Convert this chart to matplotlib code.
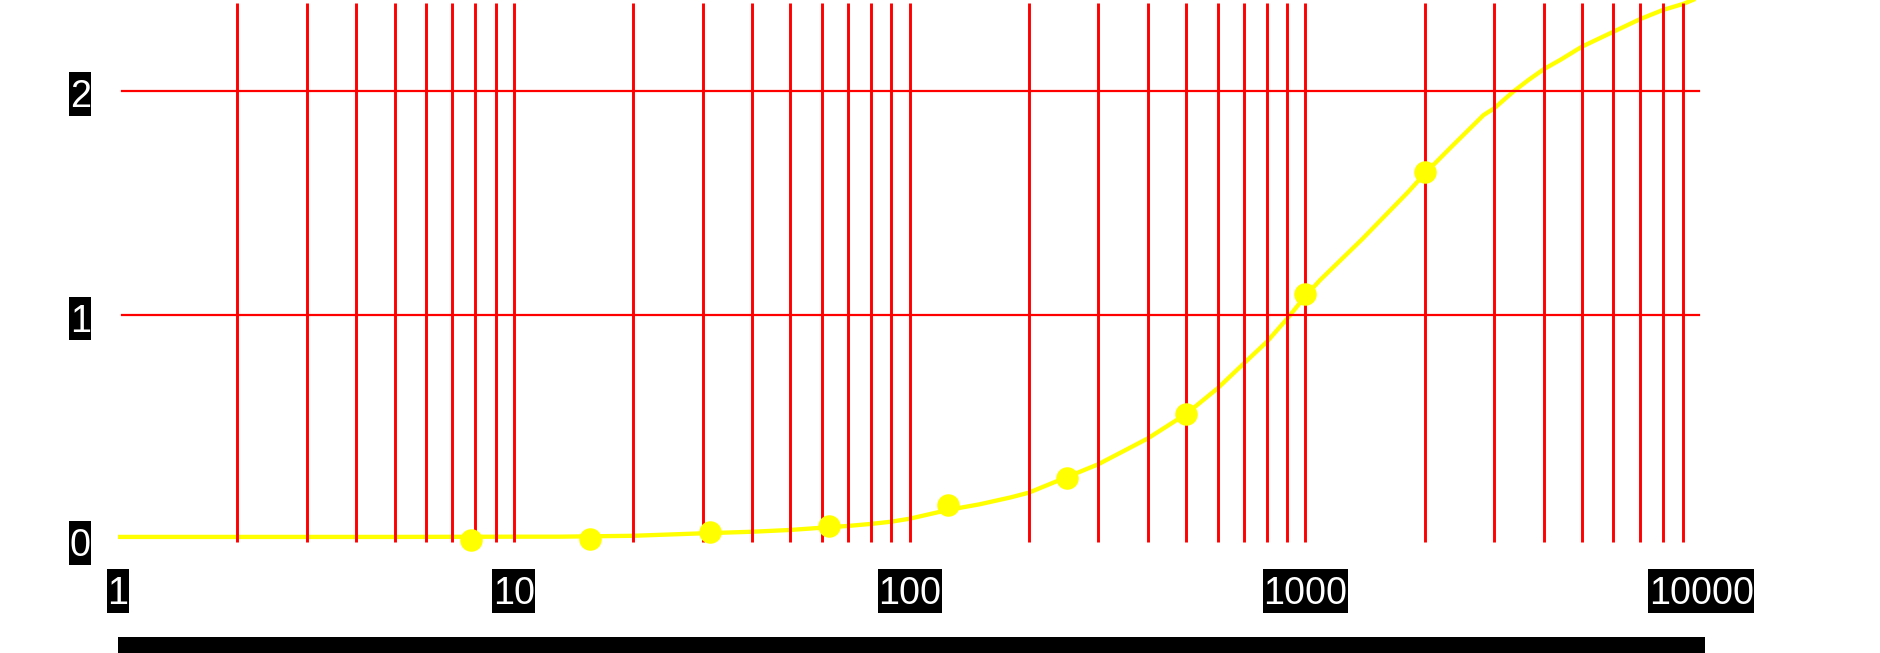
"""Log-x response curve: measured points plus fitted line on a red grid."""

import matplotlib

matplotlib.use("Agg")  # no display in the sandbox

import matplotlib.pyplot as plt
from matplotlib.path import Path

# ----------------------------------------------------------------------
# Data
# ----------------------------------------------------------------------
marker_x = [7.8125, 15.625, 31.25, 62.5, 125, 250, 500, 1000, 2000]
marker_y = [0.0, 0.004, 0.034, 0.061, 0.154, 0.273, 0.560, 1.094, 1.637]

curve_x = [1, 2, 5, 10, 13, 20, 30, 40, 50, 60, 70, 80, 90, 100, 125, 150,
           180, 200, 300, 400, 500, 600, 700, 800, 900, 1000, 1090, 1390,
           1820, 2000, 2340, 2820, 3000, 3350, 3660, 4000, 4400, 5000, 6000,
           7000, 8000, 9000, 10000]
curve_y = [0.012, 0.012, 0.012, 0.013, 0.013, 0.017, 0.028, 0.035, 0.043,
           0.053, 0.061, 0.070, 0.080, 0.093, 0.132, 0.157, 0.188, 0.209,
           0.336, 0.451, 0.560, 0.674, 0.786, 0.882, 0.985, 1.085, 1.157,
           1.338, 1.550, 1.630, 1.751, 1.892, 1.922, 1.996, 2.048, 2.096,
           2.137, 2.197, 2.263, 2.319, 2.360, 2.387, 2.420]

x_ticks = [1, 10, 100, 1000, 10000]
y_ticks = [0, 1, 2]
y_grid = [1, 2]

RED = "#ff0000"
YELLOW = "#ffff00"
FONT = "Liberation Sans"
FONT_SIZE = 27.2


def label_box(x0, y0, width, height, mutation_size):
    """Black label box: tight at the sides, more room above the digits."""
    side = 0.012 * mutation_size
    top = 0.19 * mutation_size
    bottom = 0.01 * mutation_size
    x1, y1 = x0 + width + side, y0 + height + top
    x0, y0 = x0 - side, y0 - bottom
    return Path([(x0, y0), (x1, y0), (x1, y1), (x0, y1), (x0, y0)],
                closed=True)


fig = plt.figure(figsize=(18.8, 6.53), dpi=100)
ax = fig.add_axes([117.9 / 1880, 0.0, 1583.3 / 1880, 1.0])
ax.set_xscale("log")
ax.set_xlim(x_ticks[0], x_ticks[-1])
ax.set_ylim(-0.5053, 2.4046)
ax.axis("off")

# grid at every minor/major decade step, edges left out
grid_x = [m * 10 ** e for e in range(4) for m in range(1, 10)][1:]
ax.vlines(grid_x, -0.012, 2.393, colors=RED, lw=2.1, zorder=2)
for gy in y_grid:
    ax.axhline(gy, xmin=0.0024, xmax=0.9988, color=RED, lw=1.6, zorder=2)

ax.plot(curve_x, curve_y, color=YELLOW, lw=3.1, zorder=1,
        solid_capstyle="butt")
ax.plot(marker_x, marker_y, "o", color=YELLOW, ms=16.2, mec="none",
        zorder=3)

# thick black bar along the bottom
bar = ax.axhspan(-0.7, -0.4327, xmin=0.0, xmax=1.0024, color="black", lw=0)
bar.set_clip_on(False)

label_kw = dict(ha="center", va="baseline", color="white", family=FONT,
                fontsize=FONT_SIZE,
                bbox=dict(boxstyle=label_box, fc="black", ec="none"))
for v in x_ticks:
    ax.text(v, -0.2883, str(v), **label_kw)
ytrans = ax.get_yaxis_transform()
for v in y_ticks:
    ax.text(-0.02375, v - 0.074, str(v), transform=ytrans, **label_kw)

fig.savefig("out.png", dpi=100, facecolor="white")
